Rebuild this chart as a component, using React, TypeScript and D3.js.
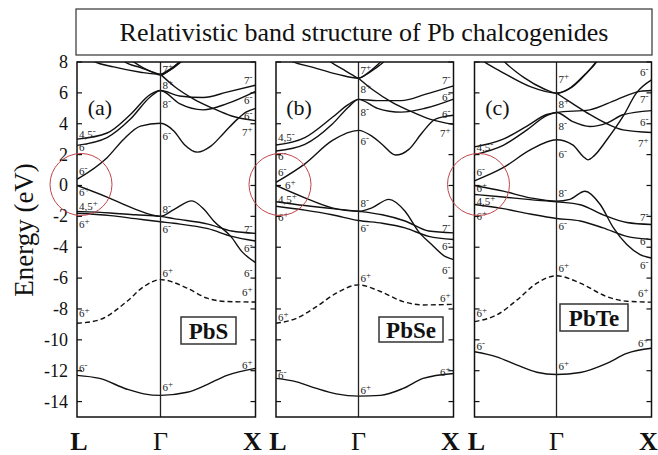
import React from 'react';
import * as d3 from 'd3';

const W = 658;
const H = 455;
const TITLE = 'Relativistic band structure of Pb chalcogenides';
const Y_TICKS = [8, 6, 4, 2, 0, -2, -4, -6, -8, -10, -12, -14];
const E_DOMAIN: [number, number] = [-15, 8];
const K_LABELS = ['L', 'Γ', 'X'];
const PANEL_TAGS = ['(a)', '(b)', '(c)'];
const COMPOUNDS = ['PbS', 'PbSe', 'PbTe'];

type Pt = [number, number];
type Lab = [number, number, string, number?];

// k: 0 = L, 1 = Γ, 2 = X (each segment normalised); value = energy in eV
const pbsBands: Pt[][] = [
  [[0, 0.4], [0.36, 1.8], [0.56, 3.0], [0.76, 3.85], [1, 4.03], [1.14, 3.53], [1.25, 2.66], [1.39, 2.16], [1.53, 2.55], [1.67, 3.42], [1.81, 4.3], [1.9, 4.75], [2, 5.0]],
  [[0, 3.0], [0.36, 3.4], [0.64, 4.6], [0.88, 5.9], [1, 6.15], [1.2, 5.8], [1.45, 5.7], [1.7, 6.05], [2, 6.5]],
  [[0, 2.6], [0.36, 3.1], [0.64, 4.3], [0.88, 5.75], [1, 6.15], [1.2, 5.3], [1.45, 4.9], [1.7, 5.3], [2, 6.1]],
  [[1, 7.2], [1.15, 6.4], [1.35, 5.6], [1.55, 5.0], [1.75, 4.5], [2, 4.2]],
  [[0.1, 8.4], [0.2, 8.05], [0.44, 7.68], [0.76, 7.34], [1, 7.2], [1.14, 7.64], [1.27, 8.3]],
  [[0.5, 8.4], [0.56, 8.05], [0.76, 7.64], [0.92, 7.32], [1, 7.2], [1.07, 7.42], [1.175, 7.86], [1.23, 8.1], [1.28, 8.4]],
  [[0.6, 8.3], [0.8, 7.6], [0.93, 7.28], [1, 7.15], [1.08, 7.4], [1.18, 7.9], [1.25, 8.3]],
  [[0, 0.0], [0.36, -0.75], [0.68, -1.5], [1, -2.0], [1.14, -1.56], [1.33, -1.0], [1.46, -1.56], [1.56, -2.3], [1.74, -3.3], [1.86, -4.3], [2, -5.0]],
  [[0, -1.68], [0.4, -1.78], [0.7, -1.9], [1, -2.0], [1.14, -2.15], [1.5, -2.5], [1.75, -2.95], [2, -3.1]],
  [[0, -1.8], [0.4, -1.95], [0.7, -2.15], [1, -2.35], [1.14, -2.45], [1.5, -2.8], [1.75, -3.3], [2, -3.6]],
  [[0, -12.3], [0.27, -12.5], [0.6, -13.2], [0.8, -13.5], [1, -13.6], [1.28, -13.4], [1.49, -12.9], [1.7, -12.3], [2, -11.85]],
];
const pbsDashed: Pt[] = [[0, -8.93], [0.27, -8.7], [0.6, -7.5], [0.8, -6.55], [1, -6.1], [1.28, -6.65], [1.49, -7.3], [1.7, -7.52], [2, -7.55]];

const pbseBands: Pt[][] = [
  [[0, 0.2], [0.35, 1.4], [0.68, 2.9], [1, 3.57], [1.14, 3.2], [1.25, 2.66], [1.39, 1.97], [1.53, 2.34], [1.67, 3.42], [1.81, 4.3], [2, 4.55]],
  [[0, 2.62], [0.35, 3.1], [0.68, 4.4], [0.88, 5.26], [1, 5.58], [1.2, 5.5], [1.45, 5.5], [1.7, 5.9], [2, 6.45]],
  [[0, 2.23], [0.35, 2.66], [0.68, 3.96], [0.88, 5.09], [1, 5.58], [1.2, 5.0], [1.45, 4.75], [1.7, 5.0], [2, 5.6]],
  [[1, 6.95], [1.15, 6.2], [1.35, 5.4], [1.55, 4.8], [1.75, 4.3], [2, 3.96]],
  [[0.1, 8.3], [0.19, 8.05], [0.45, 7.65], [0.75, 7.2], [1, 6.95], [1.12, 7.4], [1.25, 8.1]],
  [[0.58, 8.4], [0.64, 8.1], [0.82, 7.5], [0.93, 7.15], [1, 6.95], [1.07, 7.15], [1.18, 7.6], [1.28, 8.1], [1.32, 8.4]],
  [[0, 0.0], [0.35, -0.8], [0.68, -1.45], [1, -1.67], [1.14, -1.45], [1.32, -0.9], [1.49, -1.67], [1.63, -2.97], [1.77, -3.83], [1.91, -4.6], [2, -4.8]],
  [[0, -1.05], [0.35, -1.3], [0.68, -1.5], [1, -1.67], [1.25, -1.9], [1.49, -2.3], [1.74, -2.95], [2, -3.07]],
  [[0, -1.35], [0.35, -1.6], [0.68, -1.9], [1, -2.27], [1.25, -2.45], [1.49, -2.75], [1.74, -3.3], [2, -3.5]],
  [[0, -12.5], [0.25, -12.72], [0.49, -13.15], [0.73, -13.5], [1, -13.65], [1.23, -13.6], [1.47, -13.15], [1.68, -12.5], [2, -12.18]],
];
const pbseDashed: Pt[] = [[0, -8.93], [0.25, -8.6], [0.49, -7.85], [0.73, -6.98], [1, -6.44], [1.23, -6.87], [1.47, -7.52], [1.68, -7.74], [2, -7.7]];

const pbteBands: Pt[][] = [
  [[0, 0.3], [0.35, 1.15], [0.68, 2.3], [1, 2.96], [1.17, 2.63], [1.28, 1.88], [1.33, 1.66], [1.4, 1.95], [1.53, 2.96], [1.7, 4.47], [1.84, 5.98], [2, 6.84]],
  [[0, 2.5], [0.35, 3.0], [0.64, 3.85], [0.88, 4.6], [1, 4.73], [1.35, 4.9], [1.63, 5.55], [1.88, 6.1], [2, 6.15]],
  [[0, 2.0], [0.35, 2.6], [0.64, 3.6], [0.88, 4.52], [1, 4.73], [1.17, 4.14], [1.35, 3.82], [1.53, 4.04], [1.7, 4.58], [2, 4.85]],
  [[1, 5.98], [1.17, 5.3], [1.35, 4.6], [1.53, 4.0], [1.7, 3.6], [2, 3.43]],
  [[0, 8.5], [0.11, 8.05], [0.35, 7.3], [0.68, 6.4], [1, 5.98], [1.17, 6.4], [1.32, 7.3], [1.43, 8.1]],
  [[0.3, 8.4], [0.35, 8.1], [0.6, 7.0], [0.85, 6.25], [1, 5.98], [1.15, 6.35], [1.3, 7.2], [1.42, 8.0], [1.46, 8.4]],
  [[0, 0.0], [0.35, -0.37], [0.68, -0.8], [1, -1.02], [1.14, -0.9], [1.3, -0.37], [1.46, -1.23], [1.6, -2.75], [1.74, -3.83], [1.88, -4.48], [2, -4.7]],
  [[0, -0.58], [0.35, -0.75], [0.68, -0.92], [1, -1.06], [1.25, -1.25], [1.49, -1.9], [1.74, -2.4], [2, -2.53]],
  [[0, -1.23], [0.35, -1.5], [0.68, -1.85], [1, -2.14], [1.25, -2.3], [1.49, -2.75], [1.74, -3.3], [2, -3.5]],
  [[0, -10.77], [0.27, -11.1], [0.52, -11.64], [0.76, -12.1], [1, -12.25], [1.25, -12.12], [1.53, -11.53], [1.74, -10.88], [2, -10.55]],
];
const pbteDashed: Pt[] = [[0, -8.82], [0.27, -8.39], [0.52, -7.41], [0.76, -6.33], [1, -5.85], [1.25, -6.33], [1.53, -7.2], [1.74, -7.5], [2, -7.56]];

const pbsLabels: Lab[] = [
  [0, 3.33, '4,5-'], [0, 2.5, '6-'], [0, 0.95, '6-'], [0, -0.45, '6+'], [0, -1.3, '4,5+'], [0, -2.5, '6+'], [0, -8.25, '6+'], [0, -11.8, '6-'],
  [1, 7.55, '7+'], [1, 6.48, '8+'], [1, 5.28, '8-'], [1, 3.23, '6-'], [1, -1.54, '8-'], [1, -2.84, '6-'], [1, -5.68, '6+'], [1, -13.05, '6+'],
  [2, 6.85, '7-'], [2, 5.55, '6-'], [2, 4.47, '6-'], [2, 3.45, '7+'], [2, -2.84, '7-'], [2, -4.03, '6-'], [2, -5.68, '6-'], [2, -6.87, '6+'], [2, -11.64, '6+'],
];
const pbseLabels: Lab[] = [
  [0, 3.12, '4,5-'], [0, 1.93, '6-'], [0, 0.9, '6-'], [0, 0.05, '6+', 7], [0, -0.9, '4,5+'], [0, -2.03, '6+'], [0, -8.5, '6+'], [0, -12.3, '6-'],
  [1, 7.46, '7+'], [1, 6.22, '8+'], [1, 4.75, '8-'], [1, 2.9, '6-'], [1, -1.15, '8-'], [1, -2.73, '6-'], [1, -6.0, '6+'], [1, -13.26, '6+'],
  [2, 6.81, '7-'], [2, 5.72, '6-'], [2, 4.64, '6-'], [2, 3.38, '7+'], [2, -2.73, '7-'], [2, -3.92, '6-'], [2, -5.46, '6-'], [2, -7.3, '6+'], [2, -12.07, '6+'],
];
const pbteLabels: Lab[] = [
  [0, 2.52, '4,5-'], [0, 0.85, '6-'], [0, -0.15, '6+'], [0, -0.98, '4,5+'], [0, -1.95, '6+'], [0, -8.24, '6+'], [0, -10.4, '6-'],
  [1, 6.91, '7+'], [1, 5.28, '8+'], [1, 3.88, '8-'], [1, 2.03, '6-'], [1, -0.46, '8-'], [1, -2.62, '6-'], [1, -5.35, '6+'], [1, -11.7, '6+'],
  [2, 7.35, '6-'], [2, 5.61, '7-'], [2, 4.1, '6-'], [2, 2.73, '7+'], [2, -2.03, '7-'], [2, -3.6, '6-'], [2, -5.14, '6-'], [2, -6.98, '6+'], [2, -10.23, '6+'],
];

const BANDS = [pbsBands, pbseBands, pbteBands];
const DASHED = [pbsDashed, pbseDashed, pbteDashed];
const LABELS = [pbsLabels, pbseLabels, pbteLabels];

// layout
const PANEL_X = [
  [77, 160.5, 255.5],
  [276, 358.5, 453.5],
  [474.5, 556.5, 651.5],
];
const TOP = 62;
const BOTTOM = 417;
const BOXES = [
  { x: 181, y: 317, w: 55, h: 27 },
  { x: 379, y: 317, w: 64, h: 25 },
  { x: 560, y: 304, w: 68, h: 27 },
];
const SERIF = '"Liberation Serif", "Times New Roman", serif';

const yScale = d3.scaleLinear().domain(E_DOMAIN).range([BOTTOM, TOP]);

function Panel({ i }: { i: number }) {
  const [x0, xg, x1] = PANEL_X[i];
  const xScale = d3.scaleLinear().domain([0, 1, 2]).range([x0, xg, x1]);
  const line = d3
    .line<Pt>()
    .x((d) => xScale(d[0]))
    .y((d) => yScale(d[1]))
    .curve(d3.curveMonotoneX);
  const clipId = `clip${i}`;
  const box = BOXES[i];
  return (
    <g>
      <defs>
        <clipPath id={clipId}>
          <rect x={x0} y={TOP} width={x1 - x0} height={BOTTOM - TOP} />
        </clipPath>
      </defs>
      <g clipPath={`url(#${clipId})`}>
        {BANDS[i].map((b, j) => (
          <path key={j} d={line(b) || ''} fill="none" stroke="#111" strokeWidth={1.4} />
        ))}
        <path d={line(DASHED[i]) || ''} fill="none" stroke="#111" strokeWidth={1.4} strokeDasharray="5,3" />
      </g>
      <line x1={xg} x2={xg} y1={TOP} y2={BOTTOM} stroke="#222" strokeWidth={1.3} />
      <rect x={x0} y={TOP} width={x1 - x0} height={BOTTOM - TOP} fill="none" stroke="#111" strokeWidth={1.5} />
      {Y_TICKS.map((t) => (
        <g key={t}>
          <line x1={x0} x2={x0 + 5} y1={yScale(t)} y2={yScale(t)} stroke="#111" strokeWidth={1.2} />
          <line x1={x1 - 5} x2={x1} y1={yScale(t)} y2={yScale(t)} stroke="#111" strokeWidth={1.2} />
        </g>
      ))}
      {LABELS[i].map(([k, e, txt, dx], j) => {
        const anchor = k === 2 ? 'end' : 'start';
        const x = k === 0 ? x0 + 2 + (dx || 0) : k === 1 ? xg + 2 : x1 - 3;
        const main = txt.slice(0, -1);
        const sign = txt.slice(-1);
        return (
          <text key={j} x={x} y={yScale(e) + 4} fontFamily={SERIF} fontSize={11} fill="#222" textAnchor={anchor}>
            {main}
            <tspan dy={-4} fontSize={9}>{sign}</tspan>
          </text>
        );
      })}
      <circle cx={x0 + 4} cy={yScale(0) - 1} r={31} fill="none" stroke="#c0454a" strokeWidth={1} />
      <text x={x0 + 23} y={115} fontFamily={SERIF} fontSize={22} textAnchor="middle" fill="#111">
        {PANEL_TAGS[i]}
      </text>
      <rect x={box.x} y={box.y} width={box.w} height={box.h} fill="#fff" stroke="#333" strokeWidth={1.5} />
      <text x={box.x + box.w / 2} y={box.y + box.h / 2 + 8} fontFamily={SERIF} fontWeight="bold" fontSize={23} textAnchor="middle" fill="#111">
        {COMPOUNDS[i]}
      </text>
      <text x={x0 + 2} y={450} fontFamily={SERIF} fontWeight="bold" fontSize={26} textAnchor="middle" fill="#111">{K_LABELS[0]}</text>
      <text x={xg} y={450} fontFamily={SERIF} fontSize={26} textAnchor="middle" fill="#111">{K_LABELS[1]}</text>
      <text x={x1 - 3} y={450} fontFamily={SERIF} fontWeight="bold" fontSize={26} textAnchor="middle" fill="#111">{K_LABELS[2]}</text>
    </g>
  );
}

export default function App() {
  return (
    <svg width={W} height={H} style={{ position: 'absolute', left: 0, top: 0, background: '#fff' }}>
      <rect x={0} y={0} width={W} height={H} fill="#fff" />
      <rect x={76} y={9} width={576} height={46} fill="none" stroke="#333" strokeWidth={1.2} />
      <text x={364} y={41} fontFamily={SERIF} fontSize={26} textAnchor="middle" fill="#111">{TITLE}</text>
      {Y_TICKS.map((t) => (
        <text key={t} x={68} y={yScale(t) + 6} fontFamily={SERIF} fontSize={18} textAnchor="end" fill="#111">
          {String(t)}
        </text>
      ))}
      <text transform={`translate(33,230) rotate(-90)`} fontFamily={SERIF} fontSize={27} textAnchor="middle" fill="#111">
        Energy (eV)
      </text>
      {[0, 1, 2].map((i) => (
        <Panel key={i} i={i} />
      ))}
    </svg>
  );
}
